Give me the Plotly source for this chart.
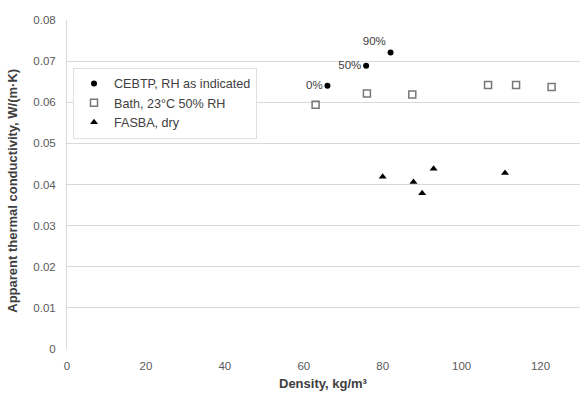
import plotly.graph_objects as go

cebtp_x = [66, 75.8, 82]
cebtp_y = [0.064, 0.0689, 0.0721]
cebtp_lbl = ["0%", "50%", "90%"]

bath_x = [63, 76, 87.5, 106.7, 113.8, 122.8]
bath_y = [0.0594, 0.0621, 0.0619, 0.0642, 0.0642, 0.0637]

fasba_x = [80, 87.8, 90, 92.9, 111]
fasba_y = [0.0419, 0.0406, 0.0379, 0.0438, 0.0428]

x_ticks = [0, 20, 40, 60, 80, 100, 120]
y_ticks = [0, 0.01, 0.02, 0.03, 0.04, 0.05, 0.06, 0.07, 0.08]
y_tick_text = ["0", "0.01", "0.02", "0.03", "0.04", "0.05", "0.06", "0.07", "0.08"]

fig = go.Figure()
fig.add_trace(go.Scatter(
    x=cebtp_x, y=cebtp_y, mode="markers+text", name="CEBTP, RH as indicated",
    text=cebtp_lbl, textposition=["middle left", "middle left", "top left"],
    textfont=dict(size=11.5, color="#404040"),
    marker=dict(symbol="circle", size=6, color="black"),
))
fig.add_trace(go.Scatter(
    x=bath_x, y=bath_y, mode="markers", name="Bath, 23°C 50% RH",
    marker=dict(symbol="square-open", size=7, color="#777777", line=dict(width=1.5)),
))
fig.add_trace(go.Scatter(
    x=fasba_x, y=fasba_y, mode="markers", name="FASBA, dry",
    marker=dict(symbol="triangle-up", size=7, color="black"),
))

fig.update_layout(
    width=580, height=394,
    margin=dict(l=67, r=0, t=20, b=45),
    paper_bgcolor="white", plot_bgcolor="white",
    font=dict(family="Liberation Sans, Arial, sans-serif", size=12, color="#595959"),
    showlegend=True,
    legend=dict(x=(73 - 67) / 513, y=0.855, xanchor="left", yanchor="top",
                bgcolor="white", bordercolor="#e0e0e0", borderwidth=1,
                font=dict(size=12.6, color="#404040"), itemwidth=30,
                tracegroupgap=3),
    xaxis=dict(range=[0, 130], tickvals=x_ticks, showgrid=False, zeroline=False,
               showline=False, ticks="", ticklabelstandoff=8,
               tickfont=dict(size=11.5, color="#595959")),
    yaxis=dict(range=[0, 0.08], tickvals=y_ticks, ticktext=y_tick_text,
               showgrid=True, gridcolor="#d9d9d9", gridwidth=1, zeroline=False,
               showline=True, linecolor="#d9d9d9", linewidth=1, ticks="",
               ticklabelstandoff=8,
               tickfont=dict(size=11.5, color="#595959")),
    annotations=[
        dict(text="<b>Density, kg/m³</b>", xref="paper", yref="paper",
             x=0.5, y=-(383 - 349) / 329, xanchor="center", yanchor="middle",
             showarrow=False, font=dict(size=13, color="#404040")),
        dict(text="<b>Apparent thermal conductivity, W/(m·K)</b>", xref="paper", yref="paper",
             x=-(67 - 13) / 513, y=0.481, xanchor="center", yanchor="middle", textangle=-90,
             showarrow=False, font=dict(size=13, color="#404040")),
    ],
)

fig.write_html("out.html", config={"displayModeBar": False},
               post_script="document.body.style.margin='0px';")
